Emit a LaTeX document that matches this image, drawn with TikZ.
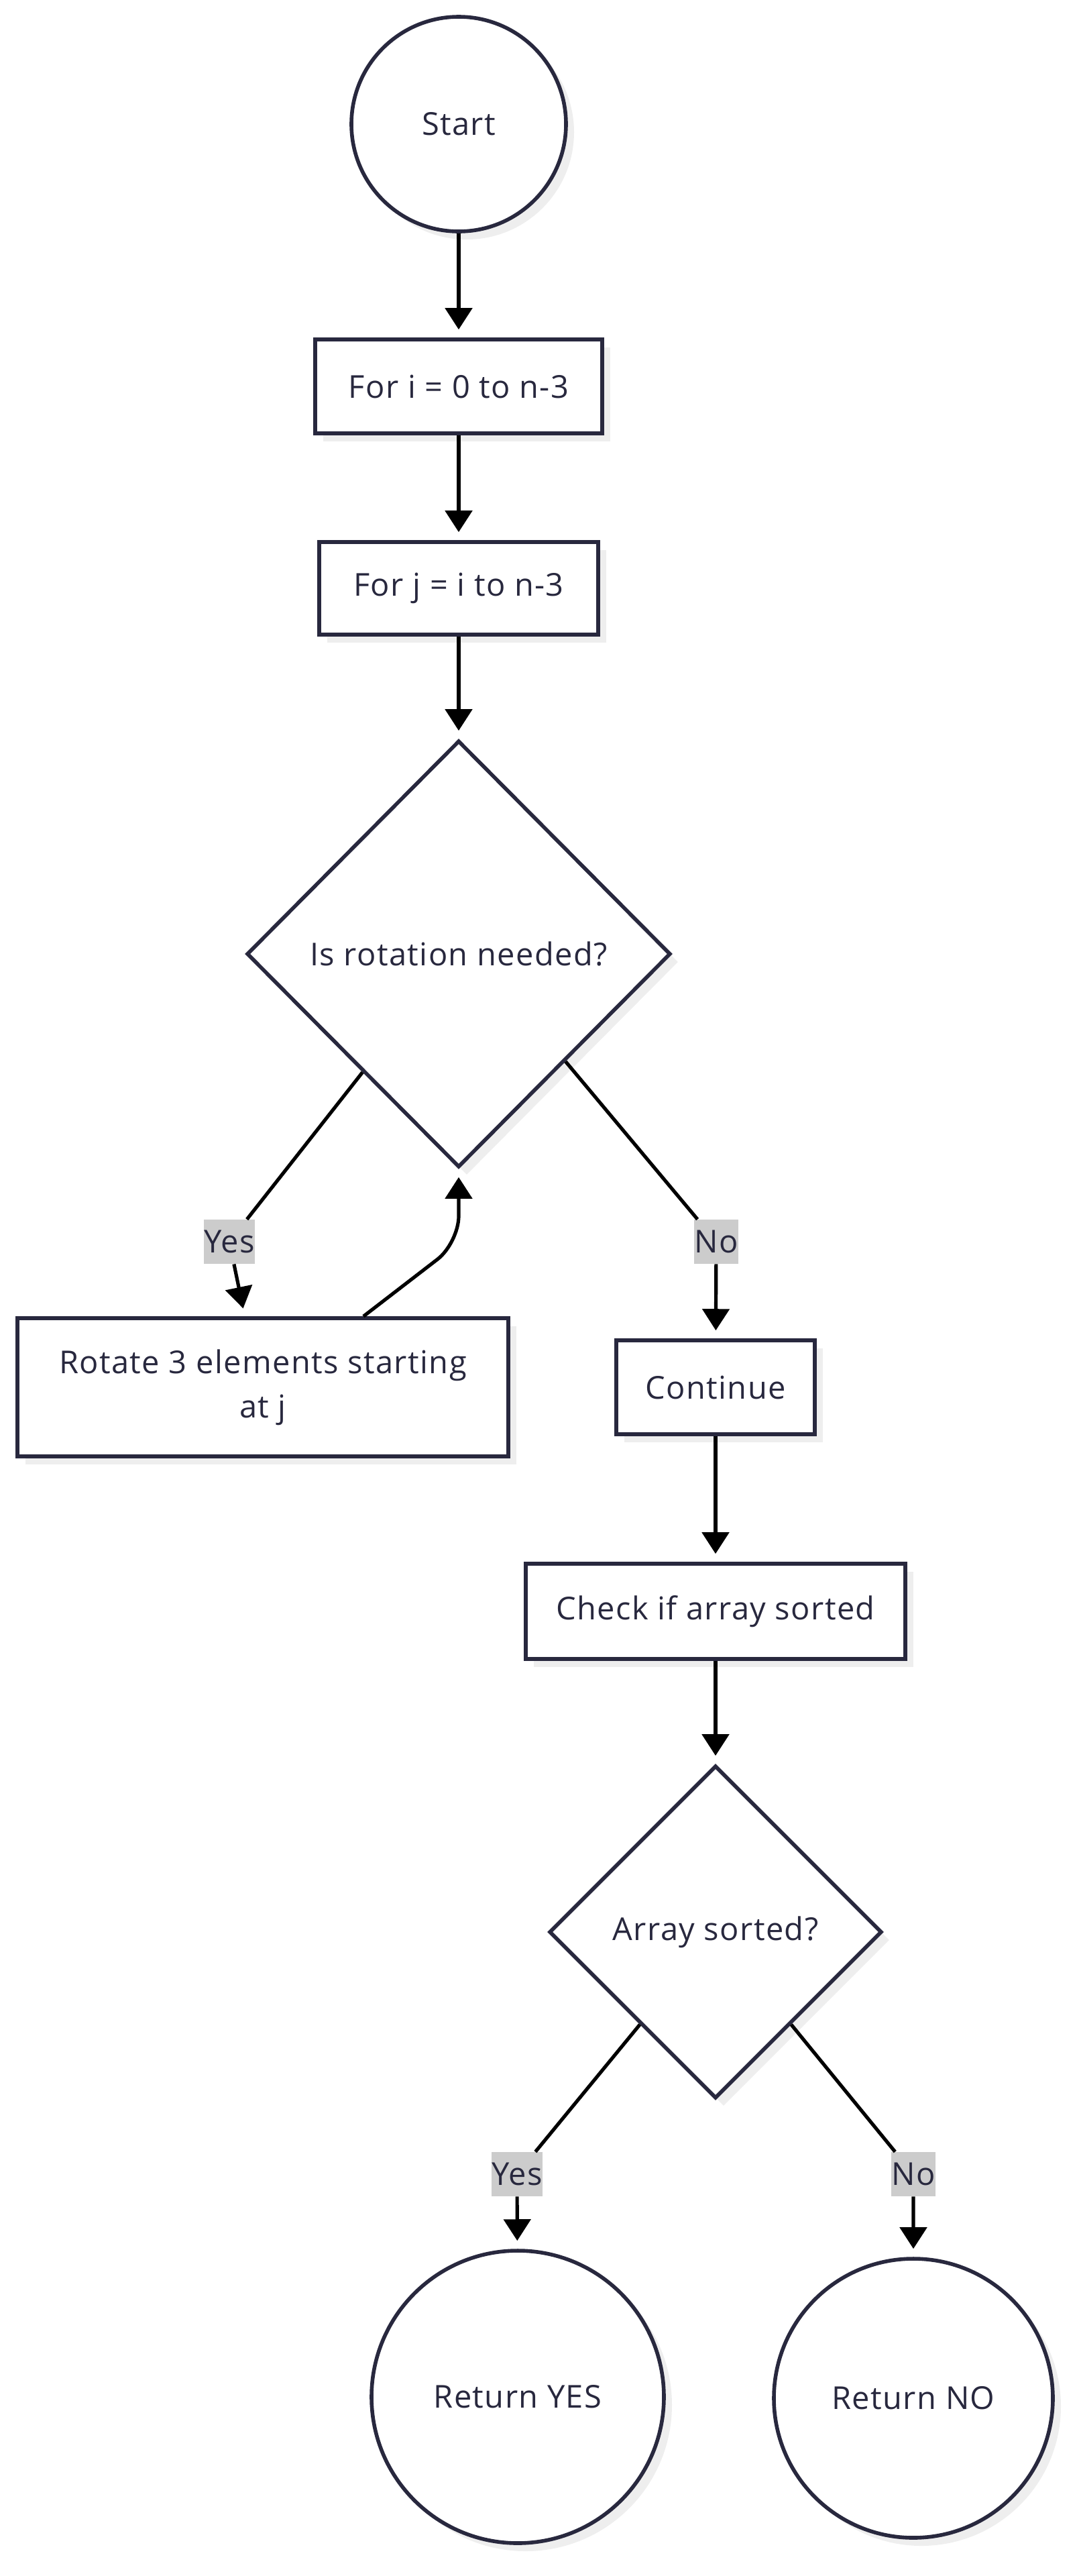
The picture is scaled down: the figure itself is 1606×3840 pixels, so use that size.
\documentclass[tikz,border=0pt]{standalone}
\usepackage{fontspec}
\setmainfont{Open Sans}[LetterSpace=3]
\usepackage{tikz}
\usetikzlibrary{shapes.geometric,arrows.meta,shadows,calc}
\definecolor{nodeline}{RGB}{40,40,62}
\definecolor{shadowgray}{RGB}{238,238,238}
\definecolor{labelgray}{RGB}{204,204,204}

\begin{document}
\begin{tikzpicture}[x=0.5pt,y=-0.5pt,
		base/.style={draw=nodeline, line width=2.8pt, fill=white, text=nodeline, font=\fontsize{23.5}{33}\selectfont, align=center, inner sep=0pt,
			drop shadow={shadow xshift=6pt, shadow yshift=-6pt, fill=shadowgray, opacity=1}},
		termbox/.style={base, circle},
		stepbox/.style={base, rectangle},
		decision/.style={base, diamond, aspect=1},
		branchlabel/.style={fill=labelgray, text=nodeline, font=\fontsize{23.5}{33}\selectfont, inner sep=0pt, minimum height=33pt},
		flowline/.style={line width=2.6pt, -{Triangle[width=20pt,length=16pt]}, shorten >=6pt}]
				\useasboundingbox (0,0) rectangle (1606,3840);
				
				% Nodes
				\node[termbox, minimum size=160pt] (start) at (684,185) {Start};
				\node[stepbox, minimum width=214pt, minimum height=70pt] (fori) at (684,576) {For i = 0 to n-3};
				\node[stepbox, minimum width=208pt, minimum height=69pt] (forj) at (684,877) {For j = i to n-3};
				\node[decision, minimum width=316pt, minimum height=318pt] (rotq) at (684,1422) {Is rotation needed?};
				\node[stepbox, minimum width=366pt, minimum height=103pt] (rot) at (392,2068) {Rotate 3 elements starting\\at j};
				\node[stepbox, minimum width=148pt, minimum height=70pt] (cont) at (1067,2068) {Continue};
				\node[stepbox, minimum width=283pt, minimum height=71pt] (chk) at (1067,2402) {Check if array sorted};
				\node[decision, minimum width=248pt, minimum height=248pt] (sortq) at (1067,2880) {Array sorted?};
				\node[termbox, minimum size=218pt] (ryes) at (772,3573) {Return YES};
				\node[termbox, minimum size=208pt] (rno) at (1362,3575) {Return NO};
				
				% Edge labels
				\node[branchlabel, minimum width=37.5pt] (yesa) at (342,1851) {Yes};
				\node[branchlabel, minimum width=28.5pt] (noa) at (1068,1851) {No};
				\node[branchlabel, minimum width=37.5pt] (yesb) at (771,3241) {Yes};
				\node[branchlabel, minimum width=28pt] (nob) at (1362,3241) {No};
				
				% Main flow
				\draw[flowline] (start) -- (fori);
				\draw[flowline] (fori) -- (forj);
				\draw[flowline] (forj) -- (rotq);
				
				% Rotation branch
				\draw[flowline] ($(rotq.west)!0.55!(rotq.south)$) -- (yesa) -- ([xshift=-13.5pt]rot.north);
				\draw[flowline, rounded corners=20pt] ([xshift=-71pt]rotq.south |- rot.north) -- ($(rotq.south)+(0,110)$) -- (rotq.south);
				\draw[flowline] ($(rotq.east)!0.5!(rotq.south)$) -- (noa) -- (cont);
				
				% Final check
				\draw[flowline] (cont) -- (chk);
				\draw[flowline] (chk) -- (sortq);
				\draw[flowline] ($(sortq.west)!0.55!(sortq.south)$) -- (yesb) -- (ryes);
				\draw[flowline] ($(sortq.east)!0.55!(sortq.south)$) -- (nob) -- (rno);
			\end{tikzpicture}
\end{document}
